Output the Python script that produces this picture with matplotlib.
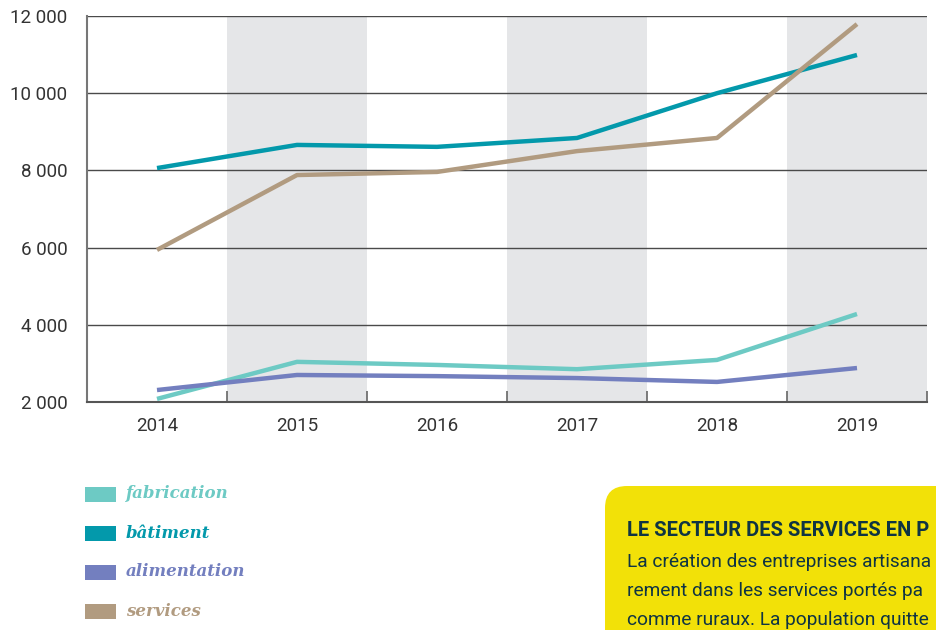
import matplotlib.pyplot as plt
from matplotlib.patches import FancyBboxPatch, Rectangle

# data
years = [2014, 2015, 2016, 2017, 2018, 2019]
fabrication = [2080, 3040, 2960, 2850, 3090, 4280]
batiment = [8060, 8660, 8610, 8840, 10000, 10990]
alimentation = [2310, 2700, 2670, 2620, 2520, 2880]
services = [5940, 7880, 7960, 8500, 8840, 11790]

y_ticks = [2000, 4000, 6000, 8000, 10000, 12000]
shaded_years = [2015, 2017, 2019]

series = [
    ('fabrication', fabrication, '#6dcac4'),
    ('bâtiment', batiment, '#0399ab'),
    ('alimentation', alimentation, '#737fbf'),
    ('services', services, '#b19b80'),
]

box_title = 'LE SECTEUR DES SERVICES EN P'
box_lines = ['La création des entreprises artisana',
             'rement dans les services portés pa',
             'comme ruraux. La population quitte']

plt.rcParams['font.family'] = ['Roboto', 'DejaVu Sans']

fig = plt.figure(figsize=(9.37, 6.30), dpi=100)
ax = fig.add_axes([87 / 937, 1 - 402 / 630, 840 / 937, 386 / 630])

# alternating background bands
for yr in shaded_years:
    ax.axvspan(yr - 0.5, yr + 0.5, color='#e5e6e8', lw=0, zorder=0)

for yv in y_ticks[1:]:
    ax.axhline(yv, color='#4a4a4a', lw=1.0, zorder=1)

for name, vals, col in series:
    ax.plot(years, vals, color=col, lw=3.2, solid_capstyle='butt', zorder=3)

ax.set_xlim(years[0] - 0.5, years[-1] + 0.5)
ax.set_ylim(2000, 12000)
ax.set_yticks(y_ticks)
ax.set_yticklabels([f'{v:,}'.replace(',', ' ') for v in y_ticks])
ax.set_xticks(years)
ax.set_xticklabels([str(y) for y in years])
ax.set_xticks([y + 0.5 for y in years[:-1]] + [years[-1] + 0.5], minor=True)
ax.tick_params(axis='x', which='major', length=0, pad=11, labelsize=13.5, labelcolor='#333333')
ax.tick_params(axis='x', which='minor', direction='in', length=8, width=1.2, color='#666666')
ax.tick_params(axis='y', length=0, pad=14, labelsize=13.5, labelcolor='#333333')

for s in ['top', 'right']:
    ax.spines[s].set_visible(False)
ax.spines['left'].set_color('#777777')
ax.spines['left'].set_linewidth(1.5)
ax.spines['bottom'].set_color('#555555')
ax.spines['bottom'].set_linewidth(1.5)

# legend as swatches + italic labels
for i, (name, vals, col) in enumerate(series):
    yc = 1 - (494 + i * 39) / 630
    fig.patches.append(Rectangle((85 / 937, yc - 7.5 / 630), 31 / 937, 15 / 630,
                                 transform=fig.transFigure, color=col, lw=0))
    fig.text(126 / 937, yc, name, color=col, fontsize=12, family='DejaVu Serif',
             style='italic', weight='bold', va='center', ha='left')

# yellow text box, cut by the figure edge
box = FancyBboxPatch((6.05, -0.5), 4.5, 1.94,
                     boxstyle='round,pad=0,rounding_size=0.22',
                     transform=fig.dpi_scale_trans, fc='#f2e108', ec='none')
fig.patches.append(box)
navy = '#0f3443'
fig.text(627 / 937, 1 - 531 / 630, box_title,
         color=navy, fontsize=14.5, weight='bold', va='center', ha='left')
for j, line in enumerate(box_lines):
    fig.text(627 / 937, 1 - (562 + j * 29) / 630, line, color=navy,
             fontsize=13.8, va='center', ha='left')

fig.savefig('out.png', dpi=100)
